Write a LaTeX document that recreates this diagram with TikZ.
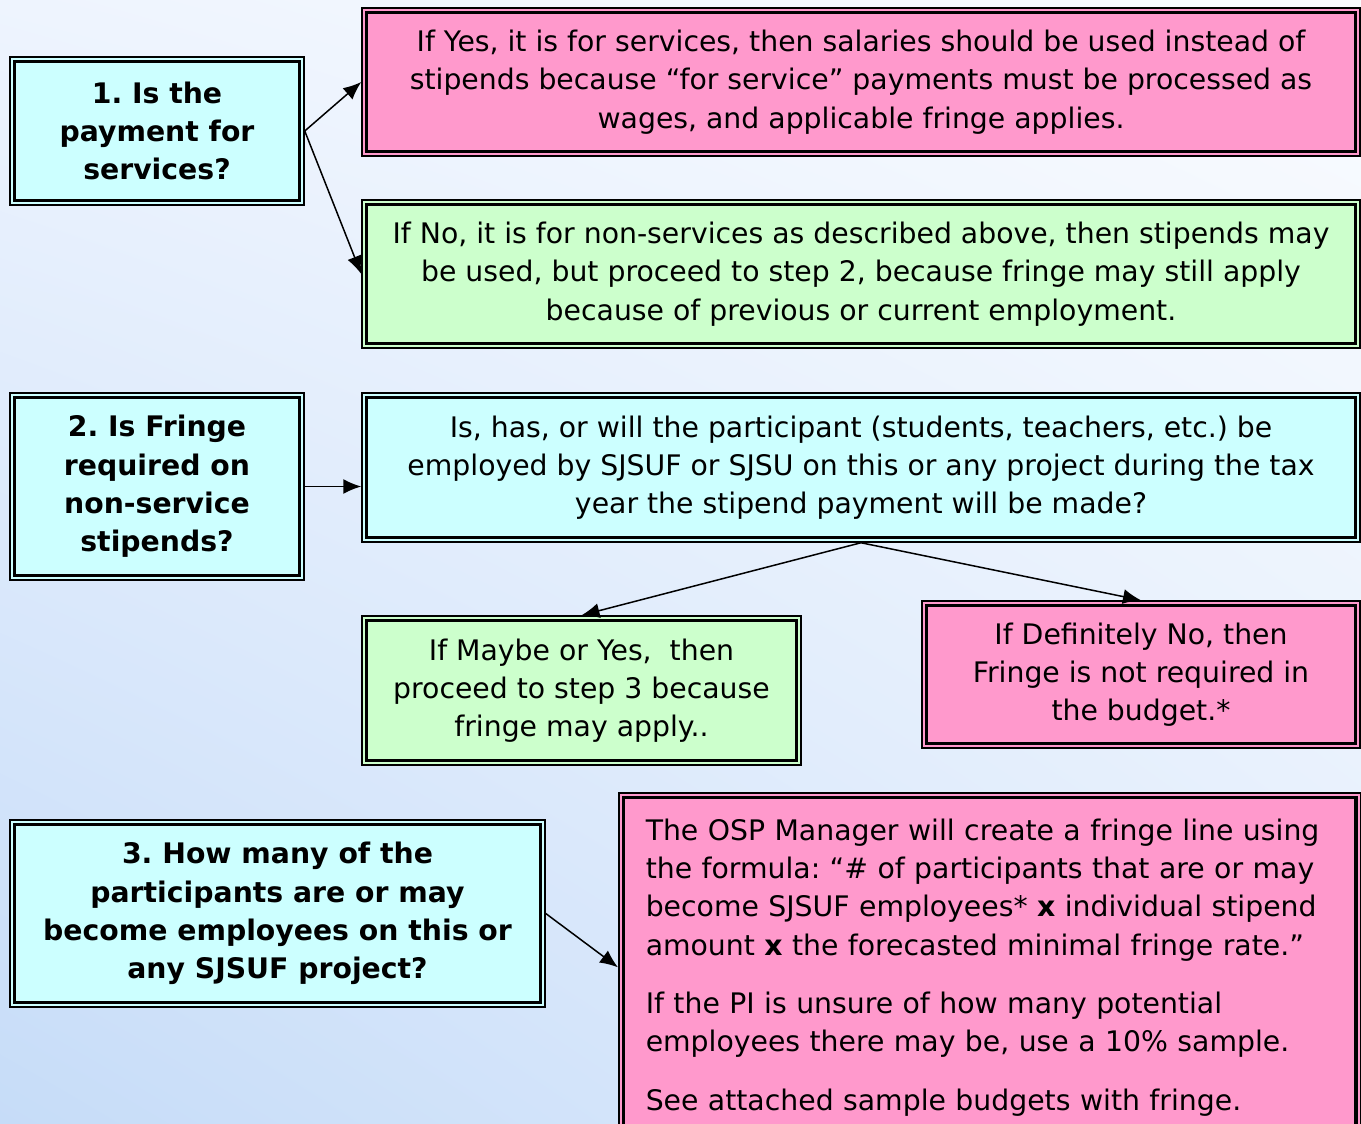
\documentclass[tikz,border=0pt]{standalone}
\usepackage{fontspec}
\setmainfont{DejaVu Sans}
\usetikzlibrary{arrows.meta,shadings}
\definecolor{pinkbox}{HTML}{FF99CC}
\definecolor{cyanbox}{HTML}{CCFFFF}
\definecolor{greenbox}{HTML}{CCFFCC}
\definecolor{bgtl}{HTML}{EEF4FE}
\definecolor{bgtr}{HTML}{FAFCFF}
\definecolor{bgbl}{HTML}{C6DCF8}
\definecolor{bgbr}{HTML}{E2EDFC}
\frenchspacing
\begin{document}
\begin{tikzpicture}[x=1pt,y=-1pt,
  box/.style={draw,line width=1.5pt,fill=#1,inner sep=0pt,align=center,
    font=\fontsize{28.3}{38.3}\selectfont\frenchspacing},
  qbox/.style={box=cyanbox,font=\fontsize{28.3}{38.3}\selectfont\frenchspacing\bfseries},
  arr/.style={-{Latex[length=18pt,width=15pt]},line width=1.5pt}]
\useasboundingbox (0,0) rectangle (1361,1124);
\shade[upper left=bgtl,upper right=bgtr,lower left=bgbl,lower right=bgbr] (0,0) rectangle (1361,1124);

% step 1
\node[qbox,minimum width=294pt,minimum height=148pt] (q1) at (157,131)
  {1. Is the\\payment for\\services?};
\node[box=pinkbox,minimum width=998pt,minimum height=148pt] (a1) at (861,82)
  {If Yes, it is for services, then salaries should be used instead of\\
   stipends because “for service” payments must be processed as\\
   wages, and applicable fringe applies.};
\node[box=greenbox,minimum width=998pt,minimum height=148pt] (b1) at (861,274)
  {If No, it is for non-services as described above, then stipends may\\
   be used, but proceed to step 2, because fringe may still apply\\
   because of previous or current employment.};

% step 2
\node[qbox,minimum width=294pt,minimum height=187pt] (q2) at (157,486.5)
  {2. Is Fringe\\required on\\non-service\\stipends?};
\node[box=cyanbox,minimum width=998pt,minimum height=149pt] (a2) at (861,467.5)
  {Is, has, or will the participant (students, teachers, etc.) be\\
   employed by SJSUF or SJSU on this or any project during the tax\\
   year the stipend payment will be made?};
\node[box=greenbox,minimum width=439pt,minimum height=149pt] (b2) at (581.5,690.5)
  {If Maybe or Yes,\ \ then\\proceed to step 3 because\\fringe may apply..};
\node[box=pinkbox,minimum width=438pt,minimum height=147pt] (c2) at (1141,674.5)
  {If Definitely No, then\\Fringe is not required in\\the budget.*};

% step 3
\node[qbox,minimum width=535pt,minimum height=187pt] (q3) at (277.5,913.5)
  {3. How many of the\\participants are or may\\become employees on this or\\any SJSUF project?};
\node[box=pinkbox,anchor=north west,text width=688pt,align=left,
  inner xsep=27pt,inner ysep=26pt] (a3) at (618,792)
  {The OSP Manager will create a fringe line using\\
   the formula: “\# of participants that are or may\\
   become SJSUF employees* \textbf{x} individual stipend\\
   amount \textbf{x} the forecasted minimal fringe rate.”\\[20pt]
   If the PI is unsure of how many potential\\
   employees there may be, use a 10\% sample.\\[20pt]
   See attached sample budgets with fringe.};

% inner thick frames
\foreach \n in {q1,a1,b1,q2,a2,b2,c2,q3,a3}
  \draw[line width=3.3pt] ([xshift=5.5pt,yshift=-5.5pt]\n.north west)
    rectangle ([xshift=-5.5pt,yshift=5.5pt]\n.south east);

% connectors
\draw[arr] (q1.east) -- (a1.west);
\draw[arr] (q1.east) -- (b1.west);
\draw[arr] (q2.east) -- (q2.east -| a2.west);
\draw[arr] (a2.south) -- (b2.north);
\draw[arr] (a2.south) -- (c2.north);
\draw[arr] (q3.east) -- (a3.west);

\end{tikzpicture}
\end{document}
